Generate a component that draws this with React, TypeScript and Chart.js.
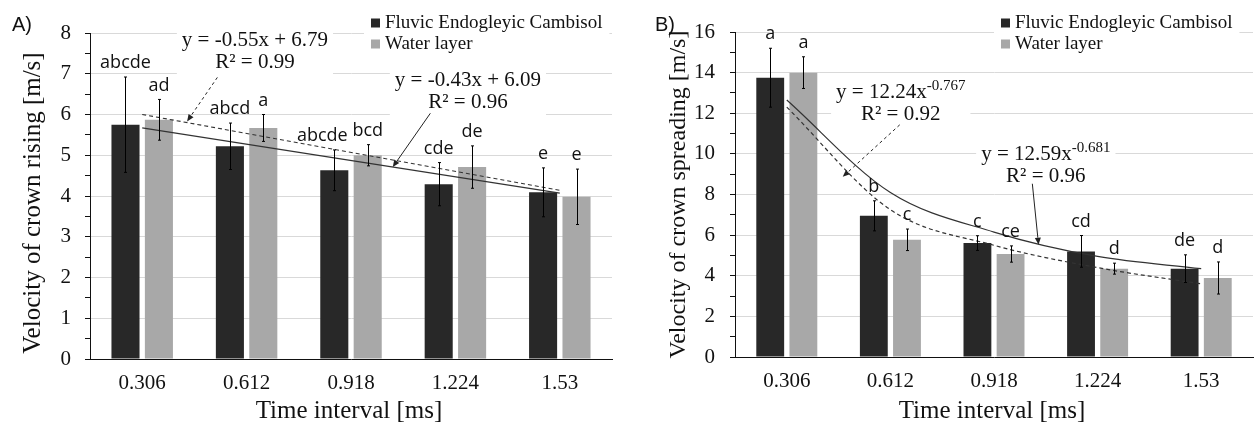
import React, { useEffect, useRef } from 'react';
import { Chart, registerables } from 'chart.js';

Chart.register(...registerables);

// ---------- data ----------
const categories = ['0.306', '0.612', '0.918', '1.224', '1.53'];
const seriesNames = ['Fluvic Endogleyic Cambisol', 'Water layer'];

// A) Velocity of crown rising [m/s]
const risingSoil = [5.75, 5.22, 4.63, 4.29, 4.09];
const risingSoilErr = [1.17, 0.57, 0.5, 0.53, 0.6];
const risingWater = [5.87, 5.67, 5.0, 4.71, 3.98];
const risingWaterErr = [0.5, 0.33, 0.26, 0.52, 0.68];
const risingSoilLetters = ['abcde', 'abcd', 'abcde', 'cde', 'e'];
const risingWaterLetters = ['ad', 'a', 'bcd', 'de', 'e'];
const risingSoilTrend = [5.67, null, null, null, 4.07];
const risingWaterTrend = [6.0, null, null, null, 4.14];

// B) Velocity of crown spreading [m/s]
const spreadingSoil = [13.75, 6.95, 5.61, 5.2, 4.35];
const spreadingSoilErr = [1.45, 0.74, 0.36, 0.78, 0.68];
const spreadingWater = [14.0, 5.77, 5.07, 4.35, 3.89];
const spreadingWaterErr = [0.78, 0.53, 0.4, 0.27, 0.79];
const spreadingSoilLetters = ['a', 'b', 'c', 'cd', 'de'];
const spreadingWaterLetters = ['a', 'c', 'ce', 'd', 'd'];
const spreadingSoilTrend = [12.65, 8.1, 6.15, 4.95, 4.35];
const spreadingWaterTrend = [12.3, 7.25, 5.5, 4.4, 3.6];

// ---------- styles ----------
const DARK = '#282828';
const GRAY = '#a8a8a8';
const GRID = '#d9d9d9';
const SERIF = '"Liberation Serif", "Times New Roman", serif';
const SANS = '"Open Sans", "DejaVu Sans", sans-serif';
const W = 628;
const H = 424;

type Seg = { t: string; sup?: boolean };
type Annot = {
  lines: Seg[][];
  at: [number, number];
  from: [number, number];
  tip: [number, number];
  dashed: boolean;
};
type Panel = {
  label: string;
  yTitle: string;
  yTitleSize: number;
  yTitleDy: number;
  yMax: number;
  minorStep: number;
  majorStep: number;
  soil: number[];
  soilErr: number[];
  water: number[];
  waterErr: number[];
  soilLetters: string[];
  waterLetters: string[];
  soilLetterNudge: number[];
  soilTrend: (number | null)[];
  waterTrend: (number | null)[];
  smooth: boolean;
  annots: Annot[];
  area: { left: number; right: number; top: number; bottom: number };
  legendX: number;
  labelX: number;
  yTickPad: number;
};

const panelA: Panel = {
  label: 'A)',
  yTitle: 'Velocity of crown rising [m/s]',
  yTitleSize: 25,
  yTitleDy: 7,
  yMax: 8,
  minorStep: 0.5,
  majorStep: 1,
  soil: risingSoil,
  soilErr: risingSoilErr,
  water: risingWater,
  waterErr: risingWaterErr,
  soilLetters: risingSoilLetters,
  waterLetters: risingWaterLetters,
  soilLetterNudge: [0, 0, -12, 0, 0],
  soilTrend: risingSoilTrend,
  waterTrend: risingWaterTrend,
  smooth: false,
  annots: [
    {
      lines: [[{ t: 'y = -0.55x + 6.79' }], [{ t: 'R² = 0.99' }]],
      at: [1.08, 7.82],
      from: [0.72, 6.91],
      tip: [0.43, 5.83],
      dashed: true,
    },
    {
      lines: [[{ t: 'y = -0.43x + 6.09' }], [{ t: 'R² = 0.96' }]],
      at: [3.12, 6.84],
      from: [2.76, 6.03],
      tip: [2.4, 4.71],
      dashed: false,
    },
  ],
  area: { left: 90, right: 612, top: 33, bottom: 359 },
  legendX: 371,
  labelX: 12,
  yTickPad: 14,
};

const panelB: Panel = {
  label: 'B)',
  yTitle: 'Velocity of crown spreading [m/s]',
  yTitleSize: 24,
  yTitleDy: 0,
  yMax: 16,
  minorStep: 1,
  majorStep: 2,
  soil: spreadingSoil,
  soilErr: spreadingSoilErr,
  water: spreadingWater,
  waterErr: spreadingWaterErr,
  soilLetters: spreadingSoilLetters,
  waterLetters: spreadingWaterLetters,
  soilLetterNudge: [0, 0, 0, 0, 0],
  soilTrend: spreadingSoilTrend,
  waterTrend: spreadingWaterTrend,
  smooth: true,
  annots: [
    {
      lines: [[{ t: 'y = 12.24x' }, { t: '-0.767', sup: true }], [{ t: 'R² = 0.92' }]],
      at: [1.1, 13.0],
      from: [1.09, 11.43],
      tip: [0.54, 8.87],
      dashed: true,
    },
    {
      lines: [[{ t: 'y = 12.59x' }, { t: '-0.681', sup: true }], [{ t: 'R² = 0.96' }]],
      at: [2.5, 9.95],
      from: [2.37, 8.53],
      tip: [2.43, 5.53],
      dashed: false,
    },
  ],
  area: { left: 107, right: 625, top: 32, bottom: 357 },
  legendX: 373,
  labelX: 27,
  yTickPad: 15,
};

const EQ_FONT = `21px ${SERIF}`;
const SUP_FONT = `15px ${SERIF}`;
const LINE_GAP = 22;

function lineWidth(ctx: CanvasRenderingContext2D, segs: Seg[]) {
  let w = 0;
  for (const s of segs) {
    ctx.font = s.sup ? SUP_FONT : EQ_FONT;
    w += ctx.measureText(s.t).width;
  }
  return w;
}

function annotGeom(chart: any, a: Annot) {
  const xs = chart.scales.x;
  const ys = chart.scales.y;
  const ctx = chart.ctx as CanvasRenderingContext2D;
  const cx = xs.getPixelForValue(a.at[0]);
  const cy = ys.getPixelForValue(a.at[1]);
  const widths = a.lines.map((l) => lineWidth(ctx, l));
  const maxW = Math.max(...widths);
  return {
    cx,
    cy,
    widths,
    box: {
      x: cx - maxW / 2 - 5,
      y: cy - 13,
      w: maxW + 10,
      h: LINE_GAP * (a.lines.length - 1) + 27,
    },
  };
}

function legendGeom(ctx: CanvasRenderingContext2D, p: Panel) {
  ctx.font = `19px ${SERIF}`;
  const tw = Math.max(...seriesNames.map((s) => ctx.measureText(s).width));
  return { x: p.legendX - 7, y: 12, w: 14 + tw + 14, h: 44 };
}

function makePlugin(p: Panel) {
  return {
    id: 'panelDecor',
    beforeDatasetsDraw(chart: any) {
      const ctx = chart.ctx as CanvasRenderingContext2D;
      ctx.save();
      ctx.fillStyle = '#ffffff';
      for (const a of p.annots) {
        const g = annotGeom(chart, a);
        ctx.fillRect(g.box.x, g.box.y, g.box.w, g.box.h);
      }
      const lg = legendGeom(ctx, p);
      ctx.fillRect(lg.x, lg.y, lg.w, lg.h);
      ctx.restore();
    },
    afterDatasetsDraw(chart: any) {
      const ctx = chart.ctx as CanvasRenderingContext2D;
      const ys = chart.scales.y;
      const groups = [
        { idx: 0, vals: p.soil, errs: p.soilErr, letters: p.soilLetters, nudge: p.soilLetterNudge },
        { idx: 1, vals: p.water, errs: p.waterErr, letters: p.waterLetters, nudge: [0, 0, 0, 0, 0] },
      ];
      ctx.save();
      for (const g of groups) {
        const meta = chart.getDatasetMeta(g.idx);
        meta.data.forEach((el: any, i: number) => {
          const x = Math.round(el.x) + 0.5;
          const yt = ys.getPixelForValue(g.vals[i] + g.errs[i]);
          const yb = ys.getPixelForValue(g.vals[i] - g.errs[i]);
          ctx.strokeStyle = '#000';
          ctx.lineWidth = 1;
          ctx.setLineDash([]);
          ctx.beginPath();
          ctx.moveTo(x, yt);
          ctx.lineTo(x, yb);
          ctx.moveTo(x - 1.5, yt);
          ctx.lineTo(x + 1.5, yt);
          ctx.moveTo(x - 1.5, yb);
          ctx.lineTo(x + 1.5, yb);
          ctx.stroke();
          ctx.fillStyle = '#111';
          ctx.font = `18px ${SANS}`;
          ctx.textAlign = 'center';
          ctx.textBaseline = 'middle';
          ctx.fillText(g.letters[i], el.x + g.nudge[i], yt - 14);
        });
      }
      ctx.restore();
    },
    afterDraw(chart: any) {
      const ctx = chart.ctx as CanvasRenderingContext2D;
      const xs = chart.scales.x;
      const ys = chart.scales.y;
      const area = chart.chartArea;
      ctx.save();
      // trendline equations and arrows
      for (const a of p.annots) {
        const g = annotGeom(chart, a);
        ctx.fillStyle = '#111';
        ctx.textBaseline = 'middle';
        ctx.textAlign = 'left';
        a.lines.forEach((segs, li) => {
          let x = g.cx - g.widths[li] / 2;
          const y = g.cy + li * LINE_GAP;
          for (const s of segs) {
            ctx.font = s.sup ? SUP_FONT : EQ_FONT;
            ctx.fillText(s.t, x, s.sup ? y - 7 : y);
            x += ctx.measureText(s.t).width;
          }
        });
        const x1 = xs.getPixelForValue(a.from[0]);
        const y1 = ys.getPixelForValue(a.from[1]);
        const x2 = xs.getPixelForValue(a.tip[0]);
        const y2 = ys.getPixelForValue(a.tip[1]);
        const ang = Math.atan2(y2 - y1, x2 - x1);
        const L = 7;
        const hw = 3;
        const bx = x2 - L * Math.cos(ang);
        const by = y2 - L * Math.sin(ang);
        ctx.strokeStyle = '#222';
        ctx.lineWidth = 1;
        ctx.setLineDash(a.dashed ? [3, 3] : []);
        ctx.beginPath();
        ctx.moveTo(x1, y1);
        ctx.lineTo(bx, by);
        ctx.stroke();
        ctx.setLineDash([]);
        ctx.fillStyle = '#222';
        ctx.beginPath();
        ctx.moveTo(x2, y2);
        ctx.lineTo(bx + hw * Math.sin(ang), by - hw * Math.cos(ang));
        ctx.lineTo(bx - hw * Math.sin(ang), by + hw * Math.cos(ang));
        ctx.closePath();
        ctx.fill();
      }
      // legend
      ctx.font = `19px ${SERIF}`;
      ctx.textAlign = 'left';
      ctx.textBaseline = 'middle';
      const rows = [23, 44];
      const cols = [DARK, GRAY];
      seriesNames.forEach((name, i) => {
        ctx.fillStyle = cols[i];
        ctx.fillRect(p.legendX, rows[i] - 4.5, 9, 9);
        ctx.fillStyle = '#111';
        ctx.fillText(name, p.legendX + 14, rows[i]);
      });
      // y title
      ctx.save();
      ctx.translate(area.left - 50, (area.top + area.bottom) / 2 + p.yTitleDy);
      ctx.rotate(-Math.PI / 2);
      ctx.font = `${p.yTitleSize}px ${SERIF}`;
      ctx.textAlign = 'center';
      ctx.textBaseline = 'alphabetic';
      ctx.fillStyle = '#111';
      ctx.fillText(p.yTitle, 0, 0);
      ctx.restore();
      // x title
      ctx.font = `25px ${SERIF}`;
      ctx.textAlign = 'center';
      ctx.textBaseline = 'alphabetic';
      ctx.fillStyle = '#111';
      ctx.fillText('Time interval [ms]', (area.left + area.right) / 2 - 2, 418);
      // panel label
      ctx.font = `20px "Liberation Sans", Arial, sans-serif`;
      ctx.textAlign = 'left';
      ctx.textBaseline = 'middle';
      ctx.fillText(p.label, p.labelX, 25);
      ctx.restore();
    },
  };
}

function buildConfig(p: Panel): any {
  const isMajor = (v: number) => Math.abs(v / p.majorStep - Math.round(v / p.majorStep)) < 1e-6;
  return {
    type: 'bar',
    data: {
      labels: categories,
      datasets: [
        {
          type: 'bar',
          label: seriesNames[0],
          data: p.soil,
          backgroundColor: DARK,
          borderWidth: 0,
          categoryPercentage: 0.64,
          barPercentage: 0.84,
          order: 2,
        },
        {
          type: 'bar',
          label: seriesNames[1],
          data: p.water,
          backgroundColor: GRAY,
          borderWidth: 0,
          categoryPercentage: 0.64,
          barPercentage: 0.84,
          order: 2,
        },
        {
          type: 'line',
          label: 'trend soil',
          data: p.soilTrend,
          borderColor: '#333',
          borderWidth: 1.2,
          pointRadius: 0,
          fill: false,
          spanGaps: true,
          cubicInterpolationMode: p.smooth ? 'monotone' : 'default',
          order: 0,
        },
        {
          type: 'line',
          label: 'trend water',
          data: p.waterTrend,
          borderColor: '#333',
          borderWidth: 1.2,
          borderDash: [4, 3],
          pointRadius: 0,
          fill: false,
          spanGaps: true,
          cubicInterpolationMode: p.smooth ? 'monotone' : 'default',
          order: 0,
        },
      ],
    },
    options: {
      responsive: false,
      animation: false,
      events: [],
      layout: { padding: { left: 0, top: p.area.top, right: W - p.area.right, bottom: 0 } },
      plugins: { legend: { display: false }, tooltip: { enabled: false }, title: { display: false } },
      scales: {
        x: {
          grid: { color: 'rgba(0,0,0,0)', drawTicks: false },
          border: { color: '#111', width: 1 },
          ticks: { font: { family: SERIF, size: 21 }, color: '#111', padding: 12 },
          afterFit: (s: any) => {
            s.height = H - p.area.bottom;
          },
        },
        y: {
          min: 0,
          max: p.yMax,
          ticks: {
            stepSize: p.minorStep,
            autoSkip: false,
            font: { family: SERIF, size: 21 },
            color: '#111',
            padding: p.yTickPad,
            callback: (v: any) => (isMajor(Number(v)) ? String(v) : ''),
          },
          grid: {
            color: (c: any) => (c.tick && isMajor(c.tick.value) ? GRID : 'rgba(0,0,0,0)'),
            tickColor: '#111',
            tickLength: 5,
            lineWidth: 1,
          },
          border: { color: '#111', width: 1 },
          afterFit: (s: any) => {
            s.width = p.area.left;
          },
        },
      },
    },
    plugins: [makePlugin(p)],
  };
}

function PanelChart({ panel }: { panel: Panel }) {
  const ref = useRef<HTMLCanvasElement | null>(null);
  useEffect(() => {
    if (!ref.current) return;
    const chart = new Chart(ref.current, buildConfig(panel));
    return () => chart.destroy();
  }, [panel]);
  return <canvas ref={ref} width={W} height={H} style={{ display: 'block', width: W, height: H }} />;
}

export default function App() {
  return (
    <div
      style={{
        position: 'fixed',
        left: 0,
        top: 0,
        width: 1256,
        height: 424,
        background: '#fff',
        display: 'flex',
        overflow: 'hidden',
      }}
    >
      <PanelChart panel={panelA} />
      <PanelChart panel={panelB} />
    </div>
  );
}
